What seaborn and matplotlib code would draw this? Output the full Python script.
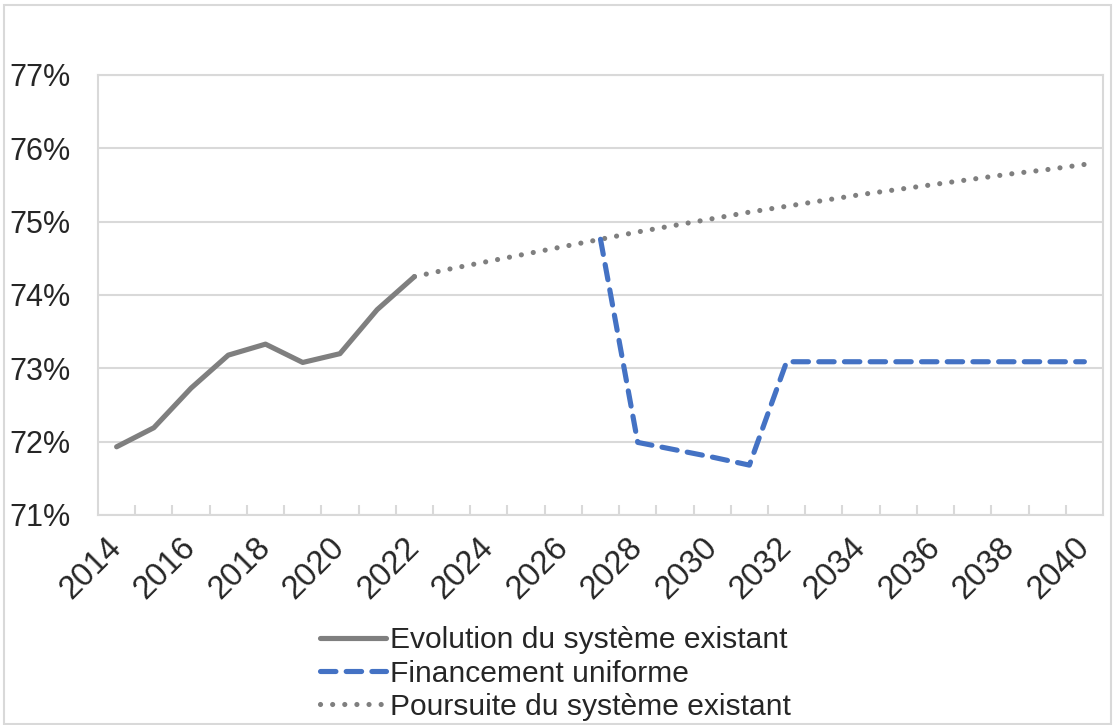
import numpy as np
import pandas as pd
import seaborn as sns
import matplotlib.pyplot as plt
from matplotlib.patches import Rectangle
from matplotlib.ticker import FixedLocator, FuncFormatter

# Données (part en %)
annees_hist = [2014, 2015, 2016, 2017, 2018, 2019, 2020, 2021, 2022]
evolution = [71.93, 72.19, 72.73, 73.18, 73.33, 73.08, 73.20, 73.80, 74.25]

annees_fin = [2027, 2028, 2029, 2030, 2031, 2032, 2033, 2034, 2035, 2036,
              2037, 2038, 2039, 2040]
financement = [74.76, 71.99, 71.89, 71.79, 71.68, 73.09, 73.09, 73.09, 73.09,
               73.09, 73.09, 73.09, 73.09, 73.09]

annees_pours = list(range(2022, 2041))
poursuite = [74.25, 74.36, 74.46, 74.56, 74.66, 74.76, 74.86, 74.95, 75.04,
             75.13, 75.21, 75.29, 75.37, 75.44, 75.51, 75.58, 75.65, 75.71, 75.78]

libelles = ["Evolution du système existant", "Financement uniforme",
            "Poursuite du système existant"]

gris = "#7F7F7F"
bleu = "#4472C4"
grille = "#D9D9D9"
ep = 3.7

sns.set_style("white")
plt.rcParams['font.family'] = ['Liberation Sans', 'DejaVu Sans']

fig = plt.figure(figsize=(11.15, 7.25), dpi=100)
ax = fig.add_axes([98 / 1115, 1 - 515 / 725, 1005 / 1115, 440 / 725])

sns.lineplot(x=annees_hist, y=evolution, ax=ax, color=gris, linewidth=ep,
             label=libelles[0])
sns.lineplot(x=annees_fin, y=financement, ax=ax, color=bleu, linewidth=ep,
             label=libelles[1])
sns.lineplot(x=annees_pours, y=poursuite, ax=ax, color=gris, linewidth=ep,
             label=libelles[2])

lines = ax.get_lines()
lines[0].set_solid_capstyle('round')
lines[0].set_solid_joinstyle('round')
lines[1].set_linestyle((0, (3.0, 2.0)))
lines[1].set_dash_capstyle('round')
lines[1].set_dash_joinstyle('round')
lines[2].set_linestyle((0, (0.01, 2.35)))
lines[2].set_dash_capstyle('round')
lines[1].set_zorder(3)

ax.set_xlim(2013.5, 2040.5)
ax.set_ylim(71, 77)
ax.set_yticks(range(71, 78))
ax.yaxis.set_major_formatter(FuncFormatter(lambda v, p: f"{v:.0f}%"))
ax.grid(axis='y', color=grille, lw=1.5)
ax.set_axisbelow(True)

ax.set_xticks(range(2014, 2041, 2))
ax.set_xticklabels([str(a) for a in range(2014, 2041, 2)], rotation=45,
                   ha='right', va='center', rotation_mode='anchor')
ax.xaxis.set_minor_locator(FixedLocator(np.arange(2014.5, 2040, 1)))
ax.tick_params(axis='x', which='major', length=0, pad=20, labelsize=23.5)
ax.tick_params(axis='x', which='minor', length=7, width=1.5, color=grille,
               direction='in', bottom=True)
ax.tick_params(axis='y', length=0, pad=20, labelsize=22)
for s in ax.spines.values():
    s.set_color(grille)
    s.set_linewidth(1.5)

ax.legend_.remove()
handles, labels = ax.get_legend_handles_labels()
fig.legend(handles, labels, loc='center', bbox_to_anchor=(0.498, 0.071),
           frameon=False, fontsize=21.6, handlelength=2.2, labelspacing=0.18,
           handletextpad=0.15, borderpad=0)

fig.patches.append(Rectangle((4 / 1115, 0.002), 1 - 8 / 1115, 1 - 6 / 725,
                             transform=fig.transFigure, fill=False,
                             edgecolor=grille, lw=1.5))

fig.savefig("out.png", dpi=100, facecolor='white')
